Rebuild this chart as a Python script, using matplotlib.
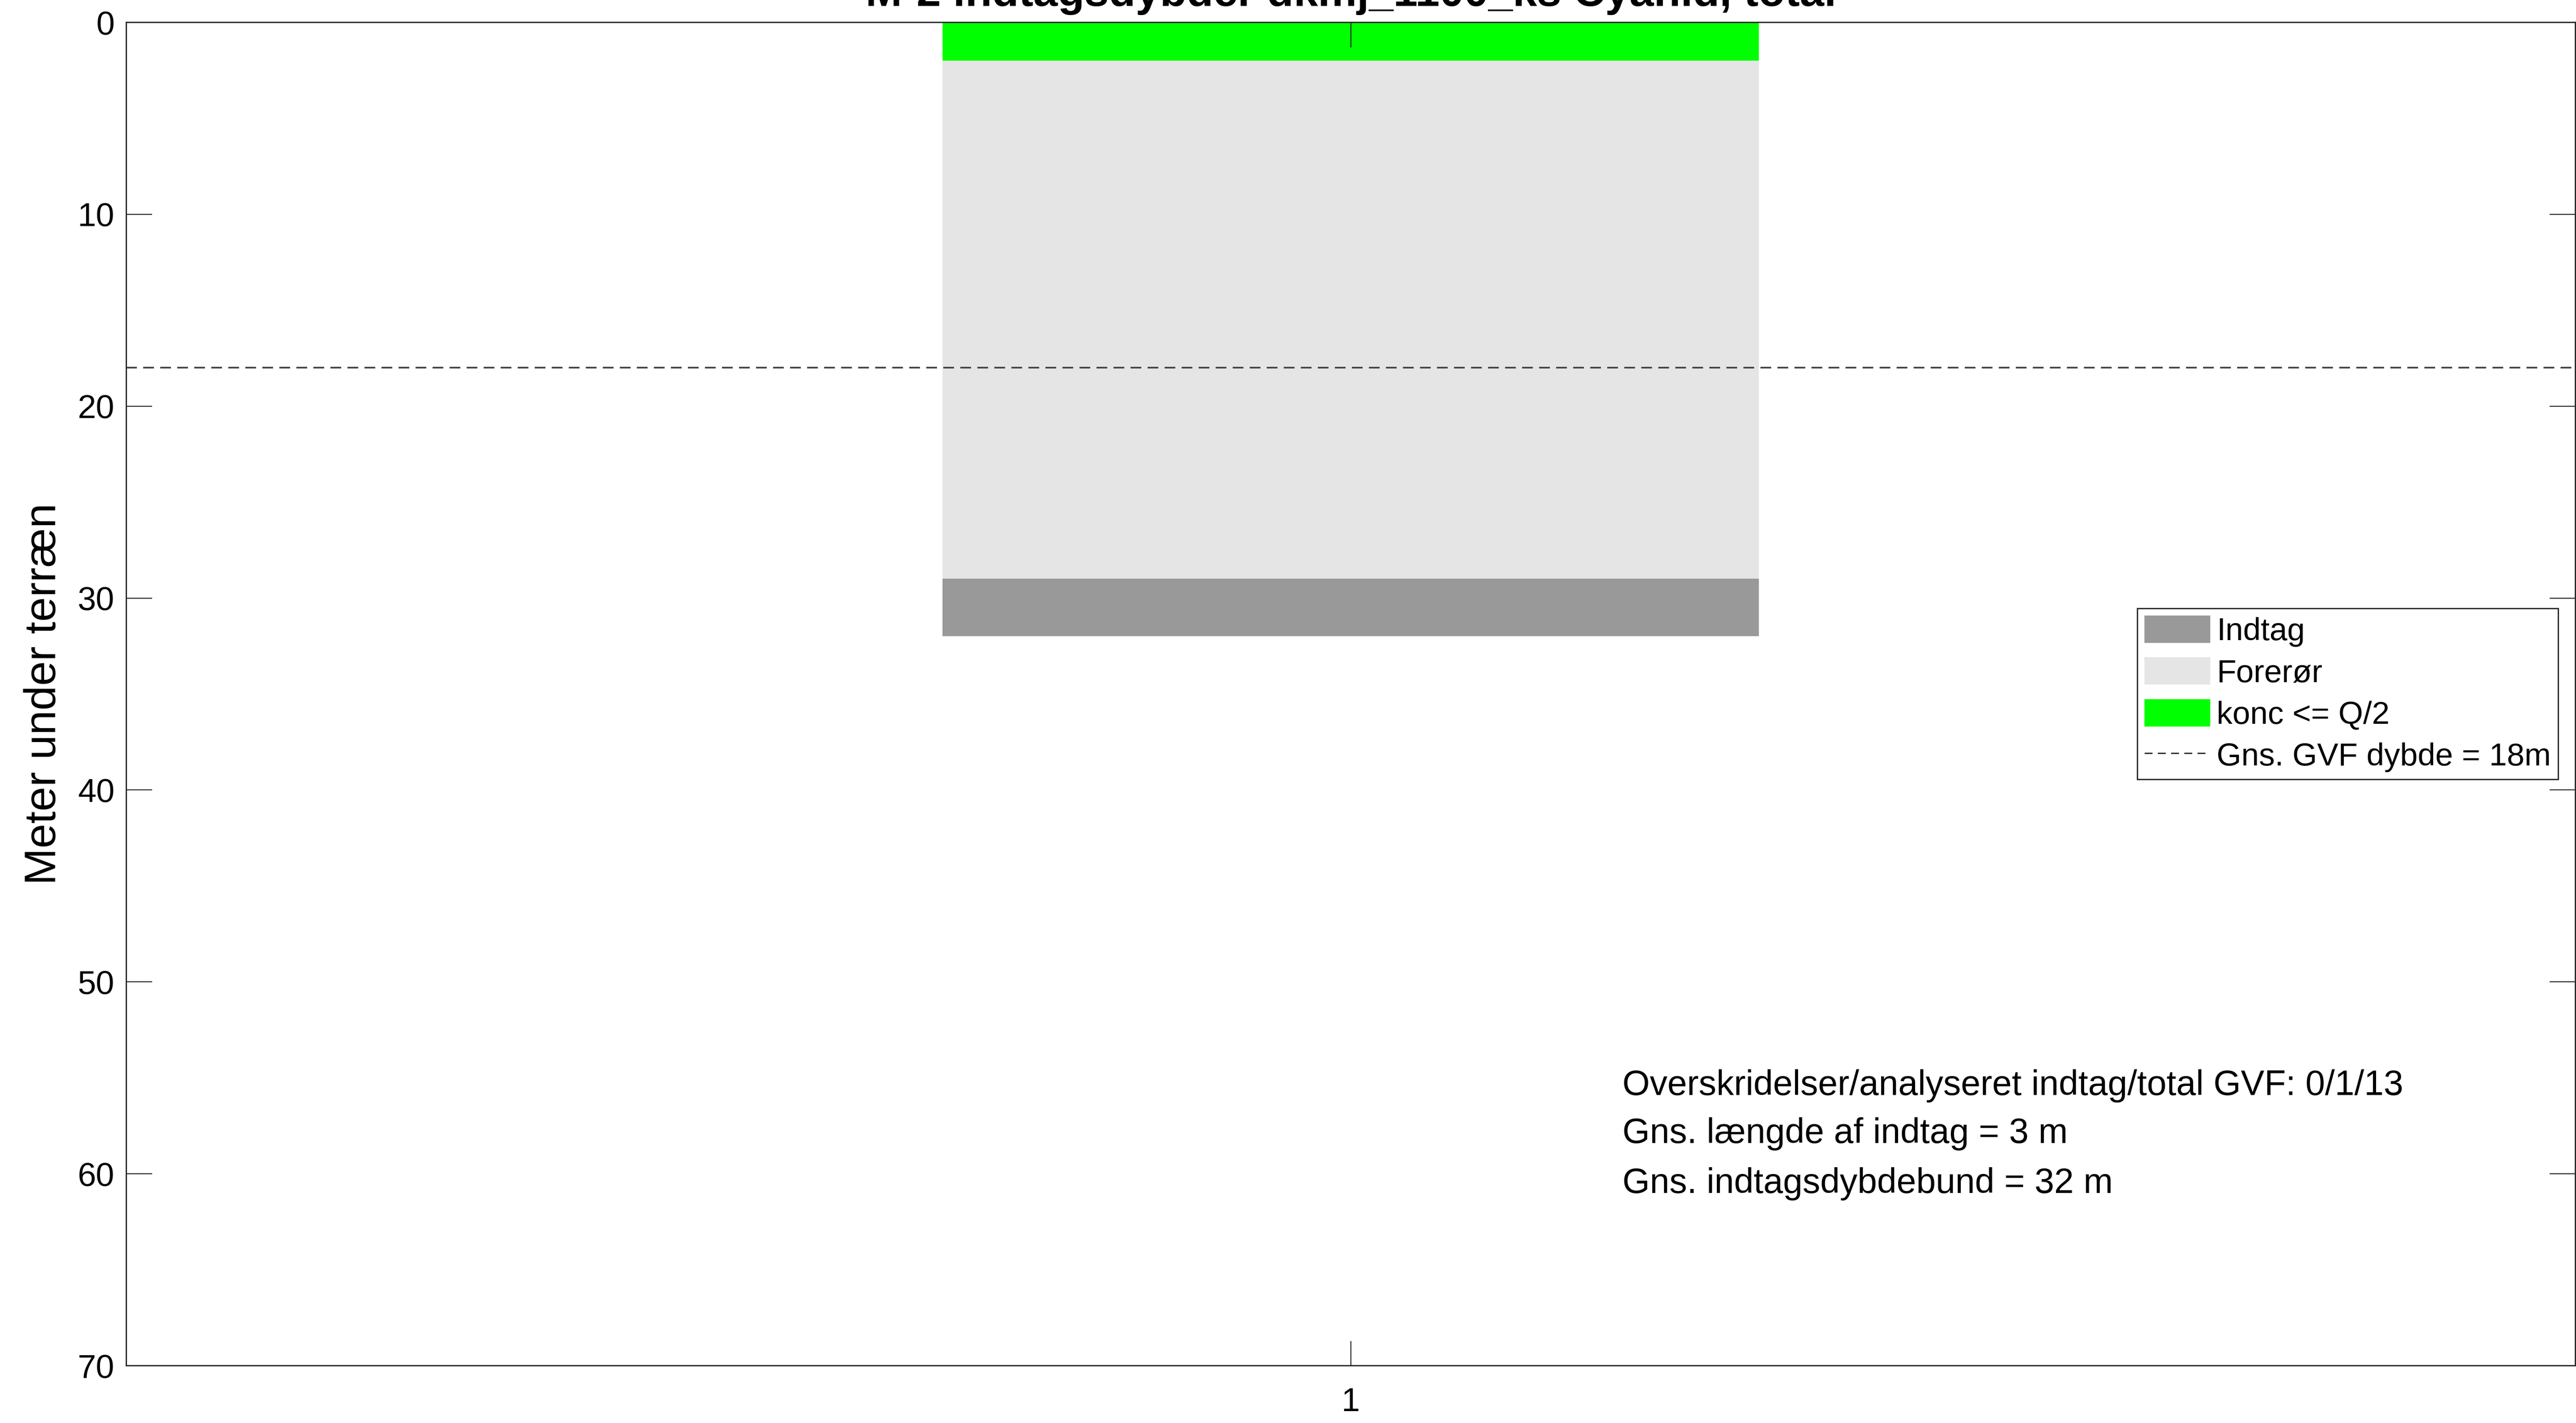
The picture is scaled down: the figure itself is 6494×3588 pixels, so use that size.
import numpy as np
import matplotlib.pyplot as plt
from matplotlib.patches import Patch
from matplotlib.lines import Line2D

# Boring M-2, depths in meters below terrain
boring = [1]
forer_top = [0]
forer_bund = [29]
indtag_top = [29]
indtag_bund = [32]
konc_top = [0]
konc_bund = [2]
gvf_dybde = 18

titel = 'M-2 indtagsdybder dkmj_1100_ks Cyanid, total'
info_linjer = ['Overskridelser/analyseret indtag/total GVF: 0/1/13',
               'Gns. længde af indtag = 3 m',
               'Gns. indtagsdybdebund = 32 m']
info_y = [55.9, 58.4, 61.0]

plt.rcParams['font.family'] = ['Liberation Sans', 'DejaVu Sans']

W, H, DPI = 6494, 3588, 300
fig = plt.figure(figsize=(W / DPI, H / DPI), dpi=DPI)
ax = fig.add_axes([318 / W, 1 - 3443 / H, (6492 - 318) / W, (3443 - 56) / H])

bredde = 1 / 3
ax.bar(boring, np.subtract(forer_bund, forer_top), bottom=forer_top,
       width=bredde, color='#e5e5e5', linewidth=0, zorder=1)
ax.bar(boring, np.subtract(indtag_bund, indtag_top), bottom=indtag_top,
       width=bredde, color='#999999', linewidth=0, zorder=1)
ax.bar(boring, np.subtract(konc_bund, konc_top), bottom=konc_top,
       width=bredde, color='#00ff00', linewidth=0, zorder=1.1)
ax.axhline(gvf_dybde, color='#404040', linewidth=1.0, dashes=(6.5, 3.8), zorder=2)

ax.set_xlim(0.5, 1.5)
ax.set_ylim(70, 0)
ax.set_xticks(boring)
ax.set_yticks(np.arange(0, 71, 10))
ax.tick_params(direction='in', top=True, right=True, labelsize=20,
               width=0.6, color='#262626')
ax.tick_params(axis='y', length=15.6, pad=7)
ax.tick_params(axis='x', length=15, pad=13)
for s in ax.spines.values():
    s.set_linewidth(0.8)
    s.set_color('#262626')

ax.set_ylabel('Meter under terræn', fontsize=26.8, labelpad=8)

for tekst, y in zip(info_linjer, info_y):
    ax.text(1.111, y, tekst, fontsize=21.3, va='baseline', ha='left')

handles = [Patch(facecolor='#999999', label='Indtag'),
           Patch(facecolor='#e5e5e5', label='Forerør'),
           Patch(facecolor='#00ff00', label='konc <= Q/2'),
           Line2D([], [], color='#262626', linewidth=0.8, dashes=(6, 4),
                  label=f'Gns. GVF dybde = {gvf_dybde}m')]
leg = ax.legend(handles=handles, loc='center right', bbox_to_anchor=(0.993, 0.5),
                fontsize=19.2, fancybox=False, framealpha=1, edgecolor='#262626',
                handlelength=2.07, handleheight=0.95, handletextpad=0.21,
                labelspacing=0.33, borderpad=0.22, borderaxespad=0)
leg.get_frame().set_linewidth(0.8)

fig.text(3406 / W, 1 - 15 / H, titel, fontsize=26.5, fontweight='bold',
         ha='center', va='baseline')

fig.savefig('out.png', dpi=DPI)
